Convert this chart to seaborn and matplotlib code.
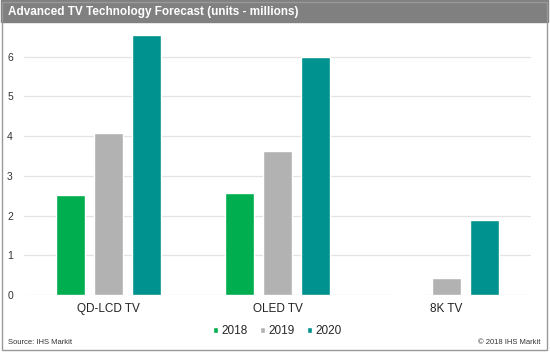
import pandas as pd
import matplotlib.pyplot as plt
import seaborn as sns
from matplotlib.patches import Rectangle

# Data (units - millions)
categories = ['QD-LCD TV', 'OLED TV', '8K TV']
years = ['2018', '2019', '2020']
units_2018 = [2.52, 2.57, 0.02]
units_2019 = [4.08, 3.63, 0.43]
units_2020 = [6.55, 6.00, 1.89]
colors = ['#00AE4F', '#B2B2B2', '#00928F']

df = pd.DataFrame({
    'tech': categories * 3,
    'year': [y for y in years for _ in categories],
    'units': units_2018 + units_2019 + units_2020,
})

sns.set_style('white')
plt.rcParams['font.family'] = ['Liberation Sans', 'DejaVu Sans']

fig = plt.figure(figsize=(5.5, 3.54), dpi=100)
ax = fig.add_axes([24 / 550, 59 / 354, 507 / 550, 270 / 354])

sns.barplot(data=df, x='tech', y='units', hue='year', palette=colors,
            order=categories, hue_order=years, width=0.675, gap=0.24,
            saturation=1, ax=ax)

ax.set_ylim(0, 6.8)
ax.set_xlim(-0.5, 2.5)
ax.set_yticks(range(0, 7))
ax.yaxis.grid(True, color='#E3E3E3', linewidth=0.9)
ax.set_axisbelow(True)
for s in ax.spines.values():
    s.set_visible(False)
ax.set_xlabel('')
ax.set_ylabel('')
ax.tick_params(axis='y', labelsize=7.5, colors='#333333', length=0, pad=8)
ax.tick_params(axis='x', labelsize=8.5, colors='#222222', length=0, pad=6)

ax.legend(loc='center', bbox_to_anchor=(0.5, -0.135), ncol=3, frameon=False,
          fontsize=8.5, handlelength=0.45, handleheight=0.45, handletextpad=0.3,
          columnspacing=1.0)

# Title bar and frame
fig.patches.append(Rectangle((1 / 550, 1 - 22 / 354), 547 / 550, 22 / 354,
                             transform=fig.transFigure, color='#808080', zorder=0))
fig.patches.append(Rectangle((2 / 550, 4 / 354), 545 / 550, 348 / 354,
                             transform=fig.transFigure, fill=False,
                             edgecolor='#999999', linewidth=1.0, zorder=0))
fig.text(8 / 550, 1 - 12 / 354, 'Advanced TV Technology Forecast (units - millions)',
         color='white', fontsize=8.5, fontweight='bold', va='center')
fig.text(8 / 550, 12 / 354, 'Source: IHS Markit', fontsize=5.5, color='#333333', va='center')
fig.text(540 / 550, 12 / 354, '\u00a9 2018 IHS Markit', fontsize=5.5, color='#333333',
         va='center', ha='right')

fig.savefig('out.png', dpi=100)
